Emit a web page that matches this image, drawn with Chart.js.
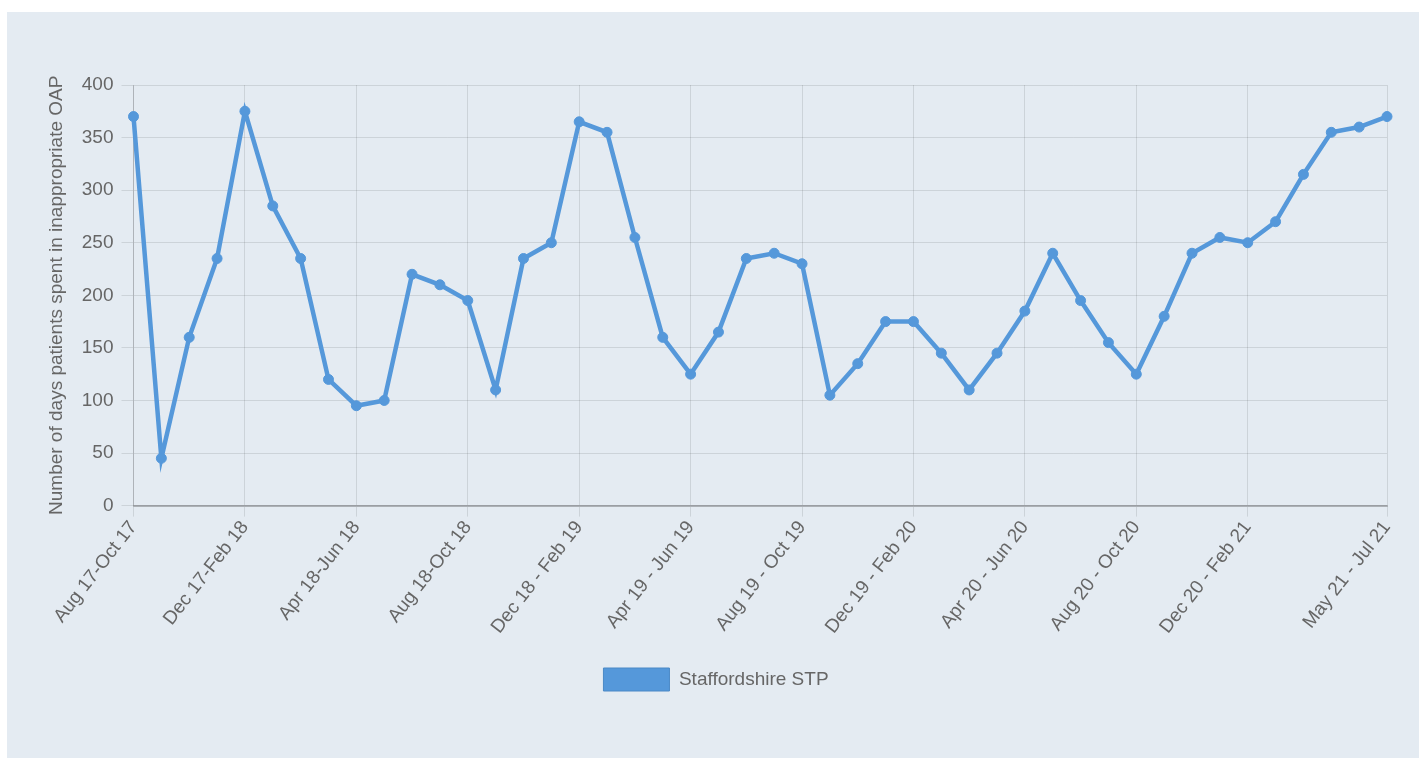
<!DOCTYPE html>
<html>
<head>
<meta charset="utf-8">
<script src="https://cdn.jsdelivr.net/npm/chart.js@4/dist/chart.umd.min.js"></script>
<style>
  html, body { margin: 0; padding: 0; background: #ffffff; }
  #panel { position: absolute; left: 7px; top: 12px; width: 1412px; height: 746px; background: #e4ebf2; }
  #wrap { position: absolute; left: 0; top: 0; width: 1412px; height: 746px; }
</style>
</head>
<body>
<div id="panel"><div id="wrap"><canvas id="c"></canvas></div></div>
<script>
const categories = [
  "Aug 17-Oct 17", "Sep 17-Nov 17", "Oct 17-Dec 17", "Nov 17-Jan 18",
  "Dec 17-Feb 18", "Jan 18-Mar 18", "Feb 18-Apr 18", "Mar 18-May 18",
  "Apr 18-Jun 18", "May 18-Jul 18", "Jun 18-Aug 18", "Jul 18-Sep 18",
  "Aug 18-Oct 18", "Sep 18-Nov 18", "Oct 18-Dec 18", "Nov 18 - Jan 19",
  "Dec 18 - Feb 19", "Jan 19 - Mar 19", "Feb 19 - Apr 19", "Mar 19 - May 19",
  "Apr 19 - Jun 19", "May 19 - Jul 19", "Jun 19 - Aug 19", "Jul 19 - Sep 19",
  "Aug 19 - Oct 19", "Sep 19 - Nov 19", "Oct 19 - Dec 19", "Nov 19 - Jan 20",
  "Dec 19 - Feb 20", "Jan 20 - Mar 20", "Feb 20 - Apr 20", "Mar 20 - May 20",
  "Apr 20 - Jun 20", "May 20 - Jul 20", "Jun 20 - Aug 20", "Jul 20 - Sep 20",
  "Aug 20 - Oct 20", "Sep 20 - Nov 20", "Oct 20 - Dec 20", "Nov 20 - Jan 21",
  "Dec 20 - Feb 21", "Jan 21 - Mar 21", "Feb 21 - Apr 21", "Mar 21 - May 21",
  "Apr 21 - Jun 21", "May 21 - Jul 21"
];
const seriesName = "Staffordshire STP";
const staffordshireValues = [
  370, 45, 160, 235, 375, 285, 235, 120, 95, 100,
  220, 210, 195, 110, 235, 250, 365, 355, 255, 160,
  125, 165, 235, 240, 230, 105, 135, 175, 175, 145,
  110, 145, 185, 240, 195, 155, 125, 180, 240, 255,
  250, 270, 315, 355, 360, 370
];
const yTicks = [0, 50, 100, 150, 200, 250, 300, 350, 400];
const yTitle = "Number of days patients spent in inappropriate OAP";

const lineColor = "#5598da";
const FONT = "'Liberation Sans', Arial, sans-serif";
const lastIdx = categories.length - 1;
const shown = i => ((i % 4 === 0 && i <= 40) || i === lastIdx);

new Chart(document.getElementById('c'), {
  type: 'line',
  data: {
    labels: categories,
    datasets: [{
      label: seriesName,
      data: staffordshireValues,
      borderColor: lineColor,
      backgroundColor: lineColor,
      borderWidth: 4.5,
      pointRadius: 5,
      pointBackgroundColor: lineColor,
      pointBorderColor: lineColor,
      pointBorderWidth: 1,
      fill: false,
      tension: 0
    }]
  },
  options: {
    responsive: true,
    maintainAspectRatio: false,
    animation: false,
    layout: { padding: { left: 38, right: 32, top: 73, bottom: 57 } },
    plugins: {
      legend: {
        position: 'bottom',
        labels: {
          boxWidth: 66,
          boxHeight: 23,
          color: '#666',
          font: { family: FONT, size: 19 },
          padding: 30,
          generateLabels: (chart) => [{
            text: seriesName,
            fillStyle: lineColor,
            strokeStyle: '#4a88c6',
            lineWidth: 1,
            datasetIndex: 0,
            fontColor: '#666'
          }]
        }
      },
      tooltip: { enabled: false }
    },
    scales: {
      x: {
        offset: false,
        grid: {
          color: (ctx) => shown(ctx.index) ? 'rgba(0,0,0,0.1)' : 'rgba(0,0,0,0)',
          tickLength: 11,
          drawOnChartArea: true
        },
        border: { color: 'rgba(0,0,0,0.25)', width: 2 },
        ticks: {
          autoSkip: false,
          minRotation: 52,
          maxRotation: 52,
          color: '#666',
          font: { family: FONT, size: 19 },
          padding: 0,
          callback: function(v, i) { return shown(i) ? categories[i] : ''; }
        }
      },
      y: {
        min: 0,
        max: 400,
        afterBuildTicks: (axis) => { axis.ticks = yTicks.map(v => ({ value: v })); },
        grid: { color: 'rgba(0,0,0,0.1)', tickLength: 12 },
        border: { color: 'rgba(0,0,0,0.15)' },
        ticks: {
          color: '#666',
          font: { family: FONT, size: 19 },
          padding: 8
        },
        title: {
          display: true,
          text: yTitle,
          color: '#666',
          font: { family: FONT, size: 19 },
          padding: { top: 0, bottom: 6 }
        }
      }
    }
  }
});
</script>
</body>
</html>
